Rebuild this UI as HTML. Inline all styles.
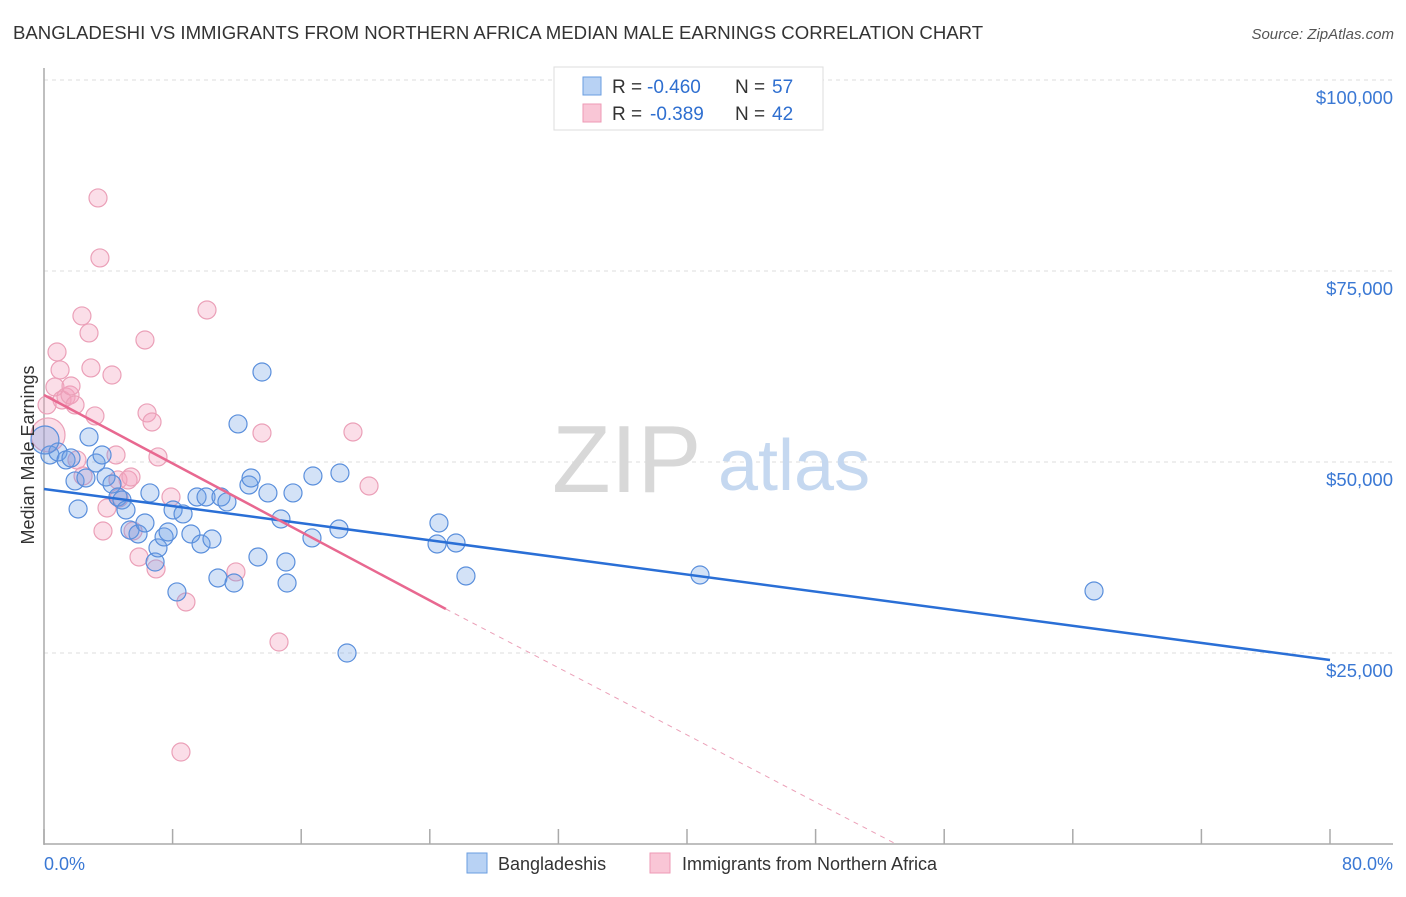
<!DOCTYPE html>
<html><head><meta charset="utf-8"><style>
body{margin:0;background:#fff;font-family:"Liberation Sans",sans-serif;}
svg text{font-family:"Liberation Sans",sans-serif;}
</style></head><body>
<svg id="chart" width="1406" height="892">
<text x="13" y="39" font-size="18.6" fill="#333">BANGLADESHI VS IMMIGRANTS FROM NORTHERN AFRICA MEDIAN MALE EARNINGS CORRELATION CHART</text>
<text x="1394" y="39" font-size="15" fill="#555" font-style="italic" text-anchor="end">Source: ZipAtlas.com</text>
<g id="grid"></g>
<g>
<text x="552" y="492" font-size="96" fill="#d8d8d8" font-family="Liberation Serif">ZIP</text>
<text x="718" y="490" font-size="72" fill="#c5d8f0">atlas</text>
</g>
<g id="axes"></g>
<g id="points"></g>
<g id="lines"></g>
<text transform="translate(34,455) rotate(-90)" font-size="18" fill="#333" text-anchor="middle">Median Male Earnings</text>
<text x="44" y="870" font-size="18" fill="#3a78d4">0.0%</text>
<text x="1393" y="870" font-size="18" fill="#3a78d4" text-anchor="end">80.0%</text>
<g>
<rect x="554" y="67" width="269" height="63" fill="#fff" stroke="#ddd"/>
<rect x="583" y="77" width="18" height="18" fill="#b8d2f4" stroke="#6a9ee0"/>
<rect x="583" y="104" width="18" height="18" fill="#f9c6d6" stroke="#ee9ab5"/>
<text y="93" font-size="19" fill="#333"><tspan x="612">R =</tspan><tspan x="647" fill="#2f6fd0">-0.460</tspan><tspan x="735">N =</tspan><tspan x="772" fill="#2f6fd0">57</tspan></text>
<text y="120" font-size="19" fill="#333"><tspan x="612">R =</tspan><tspan x="650" fill="#2f6fd0">-0.389</tspan><tspan x="735">N =</tspan><tspan x="772" fill="#2f6fd0">42</tspan></text>
</g>
<g>
<rect x="467" y="853" width="20" height="20" fill="#b8d2f4" stroke="#6a9ee0"/>
<text x="498" y="870" font-size="18" fill="#333">Bangladeshis</text>
<rect x="650" y="853" width="20" height="20" fill="#f9c6d6" stroke="#ee9ab5"/>
<text x="682" y="870" font-size="18" fill="#333">Immigrants from Northern Africa</text>
</g>
</svg>
<script>
const yTicks=[25000,50000,75000,100000];
const yTickLabels=["$25,000","$50,000","$75,000","$100,000"];
const xTicks=[0,8,16,24,32,40,48,56,64,72,80];
const blueX=[0.37,0.87,1.37,1.68,1.93,2.12,2.61,2.80,3.24,3.61,3.86,4.23,4.60,4.85,5.10,5.35,5.85,6.28,6.59,6.91,7.09,7.47,7.72,8.03,8.27,8.65,9.14,9.52,9.77,10.08,10.45,10.82,11.01,11.38,11.82,12.07,12.75,12.88,13.31,13.93,14.74,15.05,15.12,15.49,16.67,16.73,18.35,18.41,18.85,24.45,24.57,25.63,26.25,40.81,65.32,13.56,0.06];
const blueY=[50920,51310,50270,50530,47520,43850,47910,53280,49870,50920,48040,47120,45420,45030,43720,41100,40580,42020,45950,36910,38750,40190,40840,43720,32990,43200,40580,45420,39270,45420,39920,34820,45420,44770,34160,54980,46990,47910,37570,45950,42540,36910,34160,45950,40060,48170,41230,48560,25000,39270,42020,39400,35080,35210,33120,61780,52880];
const blueR=[9,9,9,9,9,9,9,9,9,9,9,9,9,9,9,9,9,9,9,9,9,9,9,9,9,9,9,9,9,9,9,9,9,9,9,9,9,9,9,9,9,9,9,9,9,9,9,9,9,9,9,9,9,9,9,9,14];
const pinkX=[0.25,0.68,0.81,1.00,1.12,1.37,1.62,1.68,1.93,2.05,2.36,2.43,2.80,2.92,3.17,3.36,3.48,3.67,3.92,4.23,4.48,4.60,4.67,5.23,5.41,5.54,5.91,6.28,6.41,6.72,6.97,7.09,7.90,8.83,8.52,10.14,11.94,13.56,14.62,19.22,20.22,0.19];
const pinkY=[53540,59820,64400,62050,58120,58510,58770,59950,57470,50270,69120,48170,66890,62310,56030,84560,76710,40970,43980,61390,50920,47650,45290,47650,48040,40970,37570,65970,56420,55240,36000,50660,45420,31680,12040,69900,35610,53800,26440,53930,46860,57470];
const pinkR=[17,9,9,9,9,9,9,9,9,9,9,9,9,9,9,9,9,9,9,9,9,9,9,9,9,9,9,9,9,9,9,9,9,9,9,9,9,9,9,9,9,9];
const blueTrend=[[0,46470],[80,24080]];
const pinkTrendSolid=[[0,58770],[25,30760]];
const pinkTrendDash=[[25,30760],[53,0]];

const X0=44,X1=1330,Y0=844,YPER=191/25000;
const sx=v=>X0+(X1-X0)*v/80;
const sy=v=>Y0-v*YPER;
const NS="http://www.w3.org/2000/svg";
function mk(tag,parent,attrs){const e=document.createElementNS(NS,tag);for(const k in attrs)e.setAttribute(k,attrs[k]);document.getElementById(parent).appendChild(e);return e;}

yTicks.forEach((t,i)=>{
  const l=mk('line','grid',{x1:44,x2:1393,y1:sy(t),y2:sy(t),stroke:'#ddd','stroke-dasharray':'4,4'});
  
  
  const tx=mk('text','grid',{x:1393,y:sy(t)+24,'font-size':18.5,fill:'#3a78d4','text-anchor':'end'});
  tx.textContent=yTickLabels[i];
  
  
});
const ya=mk('line','axes',{x1:44,x2:44,y1:68,y2:845,stroke:'#aaa','stroke-width':1.5});


const xa=mk('line','axes',{x1:44,x2:1393,y1:844,y2:844,stroke:'#aaa','stroke-width':1.5});


xTicks.forEach(t=>{
  const k=mk('line','axes',{x1:sx(t),x2:sx(t),y1:829,y2:844,stroke:'#aaa','stroke-width':1.5});
  
  
});
pinkX.forEach((v,i)=>{
  const c=mk('circle','points',{cx:sx(v),cy:sy(pinkY[i]),r:pinkR[i],fill:'rgba(244,160,188,0.35)',stroke:'#eba0b8','stroke-width':1.2});
  
  
});
blueX.forEach((v,i)=>{
  const c=mk('circle','points',{cx:sx(v),cy:sy(blueY[i]),r:blueR[i],fill:'rgba(110,160,230,0.3)',stroke:'#5a8fdc','stroke-width':1.2});
  
  
});
const bl=mk('line','lines',{x1:sx(blueTrend[0][0]),y1:sy(blueTrend[0][1]),x2:sx(blueTrend[1][0]),y2:sy(blueTrend[1][1]),stroke:'#2a6fd6','stroke-width':2.5});


const pl=mk('line','lines',{x1:sx(pinkTrendSolid[0][0]),y1:sy(pinkTrendSolid[0][1]),x2:sx(pinkTrendSolid[1][0]),y2:sy(pinkTrendSolid[1][1]),stroke:'#e86890','stroke-width':2.5});


const pd=mk('line','lines',{x1:sx(pinkTrendDash[0][0]),y1:sy(pinkTrendDash[0][1]),x2:sx(pinkTrendDash[1][0]),y2:sy(pinkTrendDash[1][1]),stroke:'#eba0b8','stroke-width':1,'stroke-dasharray':'5,5'});


</script>
</body></html>
